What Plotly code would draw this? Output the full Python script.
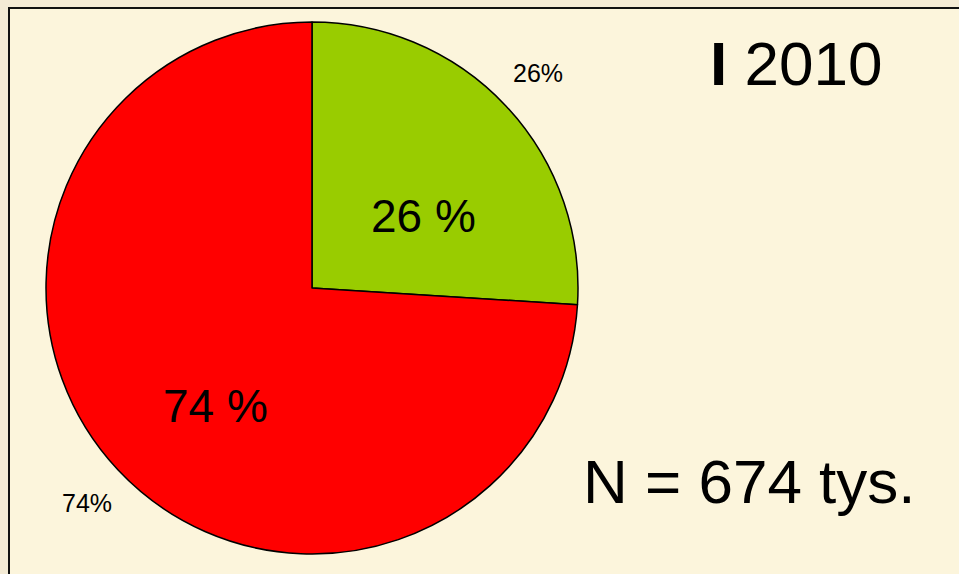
import plotly.graph_objects as go

# Data
categories = ["A", "B"]
values = [26, 74]
colors = ["#99CC00", "#FF0000"]
title_text = "<b>I</b> 2010"
n_text = "N = 674 tys."

W, H = 959, 574

def px(x):
    return x / W

def py(y):
    return 1 - y / H

cx, cy, r = 312, 288, 266

fig = go.Figure()
fig.add_trace(go.Pie(
    labels=categories,
    values=values,
    sort=False,
    direction="clockwise",
    rotation=0,
    marker=dict(colors=colors, line=dict(color="#000000", width=1.5)),
    textinfo="none",
    hoverinfo="label+percent",
    showlegend=False,
    domain=dict(x=[px(cx - r), px(cx + r)], y=[py(cy + r), py(cy - r)]),
))

font_family = "Liberation Sans, Arial, sans-serif"
ann = []
# inside labels
ann.append(dict(x=px(423), y=py(216), text=f"{values[0]} %", font=dict(size=46)))
ann.append(dict(x=px(215), y=py(406), text=f"{values[1]} %", font=dict(size=46)))
# outside labels
ann.append(dict(x=px(538), y=py(73), text=f"{values[0]}%", font=dict(size=25)))
ann.append(dict(x=px(87), y=py(503), text=f"{values[1]}%", font=dict(size=25)))
# title and N
ann.append(dict(x=px(796), y=py(64), text=title_text, font=dict(size=62)))
ann.append(dict(x=px(749), y=py(481), text=n_text, font=dict(size=62)))
for a in ann:
    a.update(xref="paper", yref="paper", showarrow=False, xanchor="center", yanchor="middle")
    a["font"].update(family=font_family, color="#000000")

fig.update_layout(
    width=W, height=H,
    margin=dict(l=0, r=0, t=0, b=0),
    paper_bgcolor="#F4EBD5",
    plot_bgcolor="#FCF5DC",
    annotations=ann,
    shapes=[dict(type="rect", xref="paper", yref="paper",
                 x0=px(9), x1=1.05, y0=-0.05, y1=py(8),
                 line=dict(color="#111111", width=2),
                 fillcolor="#FCF5DC", layer="below")],
)

fig.write_html(
    "out.html",
    config={"displayModeBar": False},
    post_script="document.body.style.margin='0';document.body.style.overflow='hidden';",
)
